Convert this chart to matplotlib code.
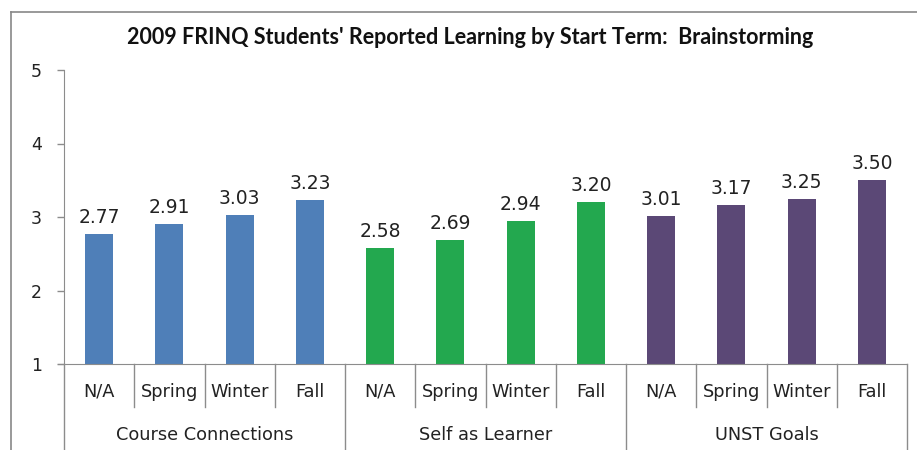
import matplotlib
matplotlib.use("Agg")
import matplotlib.pyplot as plt
from matplotlib.lines import Line2D

groups = ["Course Connections", "Self as Learner", "UNST Goals"]
terms = ["N/A", "Spring", "Winter", "Fall"]
values = [
    [2.77, 2.91, 3.03, 3.23],
    [2.58, 2.69, 2.94, 3.20],
    [3.01, 3.17, 3.25, 3.50],
]
colors = ["#4F7FB8", "#23A84F", "#5B4876"]
title = "2009 FRINQ Students' Reported Learning by Start Term:  Brainstorming"

plt.rcParams["font.family"] = ["DejaVu Sans"]

W, H = 917, 450
fig = plt.figure(figsize=(W / 100, H / 100), dpi=100)
ax = fig.add_axes([64 / W, (H - 364) / H, (907 - 64) / W, (364 - 70) / H])

gray = "#8c8c8c"
txt = "#222222"
nt = len(terms)
for g, vals in enumerate(values):
    xs = [g * nt + i + 0.5 for i in range(nt)]
    ax.bar(xs, [v - 1 for v in vals], bottom=1, width=0.4, color=colors[g])
    for x, v in zip(xs, vals):
        ax.annotate(f"{v:.2f}", (x, v), xytext=(0, 5), textcoords="offset points",
                    ha="center", va="bottom", fontsize=13.5, color=txt)

ax.set_xlim(0, len(groups) * nt)
ax.set_ylim(1, 5)
ax.set_yticks([1, 2, 3, 4, 5])
ax.tick_params(axis="y", length=5, width=1, color=gray, pad=11, labelsize=12.5,
               labelcolor=txt)
ax.set_xticks([])
for s in ["top", "right"]:
    ax.spines[s].set_visible(False)
ax.spines["left"].set_color(gray)
ax.spines["bottom"].set_color(gray)
ax.spines["bottom"].set_bounds(-6 / 70.25, len(groups) * nt)

# category / group labels and separators below the axis
tr = ax.get_xaxis_transform()
for g, name in enumerate(groups):
    for i, t in enumerate(terms):
        ax.text(g * nt + i + 0.5, -0.095, t, transform=tr, ha="center", va="center",
                fontsize=12.8, color=txt, clip_on=False)
        if i > 0:
            ax.plot([g * nt + i] * 2, [0, -0.146], transform=tr, color=gray,
                    lw=1, clip_on=False)
    ax.text(g * nt + nt / 2, -0.241, name, transform=tr, ha="center", va="center",
            fontsize=12.8, color=txt, clip_on=False)
for k in range(len(groups) + 1):
    ax.plot([k * nt] * 2, [0, -0.30], transform=tr, color=gray, lw=1, clip_on=False)

fig.text(470 / W, 1 - 38 / H, title, ha="center", va="center", fontsize=15.5,
         fontweight="bold", family="Lato", color="#111111")

# outer chart border
fig.add_artist(Line2D([11 / W, 1], [1 - 12 / H] * 2, color="#888888", lw=1.2))
fig.add_artist(Line2D([11 / W] * 2, [0, 1 - 12 / H], color="#888888", lw=1.2))

fig.savefig("out.png", dpi=100)
